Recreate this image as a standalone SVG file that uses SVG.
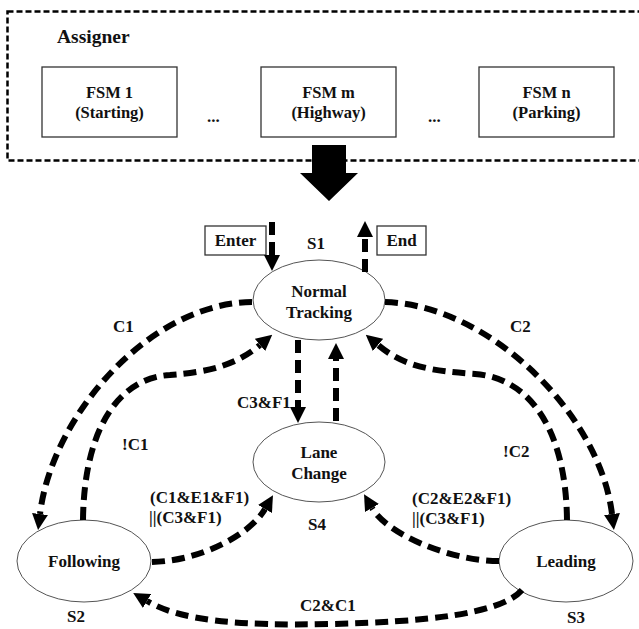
<svg xmlns="http://www.w3.org/2000/svg" width="639" height="629" viewBox="0 0 639 629">
<defs>
<marker id="ah" viewBox="0 -8 16 16" markerWidth="16" markerHeight="16" refX="0" refY="0" orient="auto" markerUnits="userSpaceOnUse">
<path d="M0,-8 L16,0 L0,8 z" fill="#000"/>
</marker>
</defs>
<style>
text{font-family:"Liberation Serif","Times New Roman",serif;font-weight:bold;fill:#111;font-size:17px}
.c{text-anchor:middle}
.f{font-size:16.5px}
.box{fill:#fff;stroke:#333;stroke-width:1.3}
.st{fill:#fff;stroke:#555;stroke-width:1}
.e{fill:none;stroke:#000;stroke-width:6;stroke-dasharray:13 7}
.a{marker-end:url(#ah)}
</style>
<rect width="639" height="629" fill="#fff"/>
<g id="assigner">
<rect x="7.5" y="11.5" width="640" height="149" fill="none" stroke="#000" stroke-width="2.5" stroke-dasharray="6 3"/>
<text x="57" y="43" style="font-size:19.5px">Assigner</text>
</g>
<g id="fsm1"><rect class="box" x="42" y="67" width="135" height="70"/><text class="c f" x="109.5" y="98">FSM 1</text><text class="c f" x="109.5" y="118">(Starting)</text></g>
<g id="fsmm"><rect class="box" x="261" y="67" width="135" height="70"/><text class="c f" x="328.5" y="98">FSM m</text><text class="c f" x="328.5" y="118">(Highway)</text></g>
<g id="fsmn"><rect class="box" x="479" y="67" width="135" height="70"/><text class="c f" x="546.5" y="98">FSM n</text><text class="c f" x="546.5" y="118">(Parking)</text></g>
<g id="dots"><text x="207" y="122">...</text><text x="428" y="122">...</text></g>
<g id="bigarrow"><polygon points="312,145 346,145 346,173 358,173 329,201 300,173 312,173" fill="#000"/></g>
<g id="enter"><rect class="box" x="205" y="226" width="61" height="29"/><text class="c" x="235.5" y="246">Enter</text></g>
<g id="end"><rect class="box" x="377" y="226" width="49" height="29"/><text class="c" x="401.5" y="246">End</text></g>
<g id="s1"><ellipse class="st" cx="319" cy="300" rx="66" ry="40"/><text class="c" x="319" y="297">Normal</text><text class="c" x="319" y="318">Tracking</text><text class="c" x="316" y="249">S1</text></g>
<g id="s4"><ellipse class="st" cx="319" cy="462" rx="66" ry="40"/><text class="c" x="319" y="458">Lane</text><text class="c" x="319" y="479">Change</text><text class="c" x="317" y="530">S4</text></g>
<g id="s2"><ellipse class="st" cx="84" cy="561" rx="67" ry="41"/><text class="c" x="84" y="567">Following</text><text class="c" x="76" y="622">S2</text></g>
<g id="s3"><ellipse class="st" cx="566" cy="561" rx="67" ry="41"/><text class="c" x="566" y="567">Leading</text><text class="c" x="576" y="623">S3</text></g>
<g id="connectors">
<path class="e a" d="M272,222 L272,255"/>
<path class="e a" d="M365,272 L365,237"/>
<path class="e a" d="M298,340 L298,407"/>
<path class="e a" d="M336,421 L336,359"/>
<path class="e a" d="M252,302 C150,303 52,415 40,514"/>
<path class="e a" d="M83,520 C84,430 118,378 170,375 C207,372 235,366 260,345"/>
<path class="e a" d="M152,562 C200,561 250,535 265,509"/>
<path class="e a" d="M499,561 C450,561 387,534 372,508"/>
<path class="e a" d="M385,302 C490,305 600,415 612,514"/>
<path class="e a" d="M567,520 C566,430 530,378 475,374 C430,371 403,366 378,345"/>
<path class="e a" d="M522,590 C500,615 420,622 330,624 C240,626 181,621 147,601"/>
</g>
<g id="labels">
<text x="113" y="332">C1</text>
<text x="122" y="450">!C1</text>
<text x="237" y="408">C3&amp;F1</text>
<text x="510" y="332">C2</text>
<text x="503" y="457">!C2</text>
<text x="150" y="503">(C1&amp;E1&amp;F1)</text>
<text x="149" y="523">||(C3&amp;F1)</text>
<text x="412" y="504">(C2&amp;E2&amp;F1)</text>
<text x="412" y="524">||(C3&amp;F1)</text>
<text x="300" y="611">C2&amp;C1</text>
</g>
</svg>
